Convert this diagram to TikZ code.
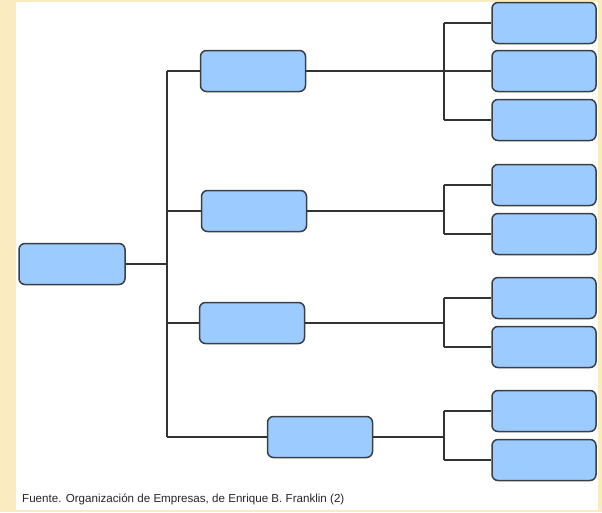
\documentclass[tikz,border=0pt]{standalone}
\usepackage{fontspec}
\setmainfont{Liberation Sans}
\begin{document}
\begin{tikzpicture}[x=1pt,y=-1pt,
  orgbox/.style={draw=boxline,fill=boxfill,line width=1.5pt,rounded corners=6pt,
    minimum width=105pt,minimum height=41pt,inner sep=0pt},
  leafbox/.style={orgbox,minimum width=104pt},
  link/.style={draw=linkcol,line width=1.6pt}]
\definecolor{boxfill}{HTML}{9CCCFF}
\definecolor{boxline}{HTML}{3A3F44}
\definecolor{linkcol}{HTML}{333333}
\definecolor{paper}{HTML}{FBEBC0}
% page frame
\fill[paper] (0,0) rectangle (602,512);
\fill[white] (16,2) rectangle (598,510);
\useasboundingbox (0,0) rectangle (602,512);

% root and second level
\node[orgbox,minimum width=106pt] (root) at (72,264) {};
\node[orgbox] (a) at (253,71) {};
\node[orgbox] (b) at (254,211) {};
\node[orgbox] (c) at (252,323) {};
\node[orgbox] (d) at (320,437) {};

% third level
\node[leafbox] (a1) at (544,23) {};
\node[leafbox] (a2) at (544,71) {};
\node[leafbox] (a3) at (544,120) {};
\node[leafbox] (b1) at (544,185) {};
\node[leafbox] (b2) at (544,234) {};
\node[leafbox] (c1) at (544,298) {};
\node[leafbox] (c2) at (544,347) {};
\node[leafbox] (d1) at (544,411) {};
\node[leafbox] (d2) at (544,460) {};

% bus lines
\coordinate (trunk) at (167,0);
\coordinate (bus) at (444,0);

\draw[link] (root.east) -- (root.east -| trunk);
\draw[link] (trunk |- a.west) -- (trunk |- d.west);
\foreach \n in {a,b,c,d}
  \draw[link] (trunk |- \n.west) -- (\n.west);

\draw[link] (a.east) -- (bus |- a.east);
\draw[link] (bus |- a1.west) -- (bus |- a3.west);
\foreach \n in {a1,a2,a3}
  \draw[link] (bus |- \n.west) -- (\n.west);

\draw[link] (b.east) -- (bus |- b.east);
\draw[link] (bus |- b1.west) -- (bus |- b2.west);
\foreach \n in {b1,b2}
  \draw[link] (bus |- \n.west) -- (\n.west);

\draw[link] (c.east) -- (bus |- c.east);
\draw[link] (bus |- c1.west) -- (bus |- c2.west);
\foreach \n in {c1,c2}
  \draw[link] (bus |- \n.west) -- (\n.west);

\draw[link] (d.east) -- (bus |- d.east);
\draw[link] (bus |- d1.west) -- (bus |- d2.west);
\foreach \n in {d1,d2}
  \draw[link] (bus |- \n.west) -- (\n.west);

% source note
\node[anchor=base west,inner sep=0pt,font=\fontsize{11.6}{14}\selectfont,text=black!85]
  (note) at (22,502) {Fuente. Organización de Empresas, de Enrique B. Franklin (2)};
\end{tikzpicture}
\end{document}
